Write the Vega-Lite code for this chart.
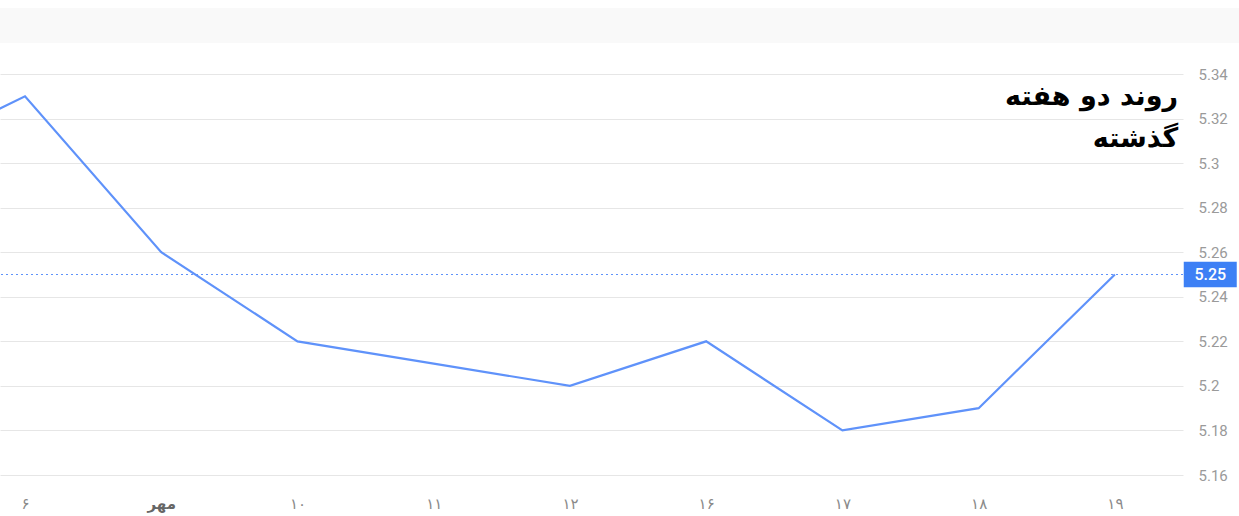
{
  "$schema": "https://vega.github.io/schema/vega-lite/v6.json",
  "autosize": {"type": "none"},
  "width": 1183,
  "height": 401,
  "padding": {"left": 0, "top": 74, "right": 56, "bottom": 41},
  "background": "white",
  "config": {"view": {"stroke": null}},
  "datasets": {
    "series": [
      {"idx": -1, "day": "", "price": 5.30},
      {"idx": 0, "day": "۶", "price": 5.33},
      {"idx": 1, "day": "مهر", "price": 5.26},
      {"idx": 2, "day": "۱۰", "price": 5.22},
      {"idx": 3, "day": "۱۱", "price": 5.21},
      {"idx": 4, "day": "۱۲", "price": 5.20},
      {"idx": 5, "day": "۱۶", "price": 5.22},
      {"idx": 6, "day": "۱۷", "price": 5.18},
      {"idx": 7, "day": "۱۸", "price": 5.19},
      {"idx": 8, "day": "۱۹", "price": 5.25}
    ],
    "current": [{"price": 5.25}],
    "heading": [{"text": ["روند دو هفته", "گذشته"]}]
  },
  "layer": [
    {
      "data": {"values": [{"x0": -0.1835, "x1": 8.912, "y0": 5.3539, "y1": 5.3696}]},
      "mark": {"type": "rect", "color": "#f9f9f9", "clip": false},
      "encoding": {
        "x": {"field": "x0", "type": "quantitative"},
        "x2": {"field": "x1"},
        "y": {"field": "y0", "type": "quantitative"},
        "y2": {"field": "y1"}
      }
    },
    {
      "data": {"name": "series"},
      "mark": {"type": "line", "color": "#5f92fa", "strokeWidth": 2.2, "clip": true},
      "encoding": {
        "x": {
          "field": "idx",
          "type": "quantitative",
          "scale": {"domain": [-0.1835, 8.5], "nice": false, "zero": false},
          "axis": {
            "title": null,
            "values": [0, 1, 2, 3, 4, 5, 6, 7, 8],
            "labelExpr": "['۶','مهر','۱۰','۱۱','۱۲','۱۶','۱۷','۱۸','۱۹'][datum.value]",
            "domain": false,
            "ticks": false,
            "grid": false,
            "labelPadding": 28,
            "labelFont": "DejaVu Sans",
            "labelFontSize": 15,
            "labelColor": {"condition": {"test": "datum.value == 1", "value": "#666666"}, "value": "#8a8a8a"},
            "labelFontWeight": {"condition": {"test": "datum.value == 1", "value": "bold"}, "value": "normal"},
            "labelBaseline": "middle"
          }
        },
        "y": {
          "field": "price",
          "type": "quantitative",
          "scale": {"domain": [5.16, 5.34], "nice": false, "zero": false},
          "axis": {
            "title": null,
            "orient": "right",
            "values": [5.16, 5.18, 5.2, 5.22, 5.24, 5.26, 5.28, 5.3, 5.32, 5.34],
            "format": ".2~f",
            "domain": false,
            "ticks": false,
            "grid": true,
            "gridColor": "#e6e6e6",
            "gridWidth": 1,
            "labelPadding": 15,
            "labelFont": "Roboto",
            "labelFontSize": 15,
            "labelColor": "#9a9a9a",
            "labelAlign": "left",
            "labelBaseline": "middle"
          }
        }
      }
    },
    {
      "data": {"name": "heading"},
      "mark": {
        "type": "text",
        "font": "DejaVu Sans",
        "fontSize": 27,
        "fontWeight": "bold",
        "color": "#000000",
        "align": "right",
        "baseline": "alphabetic",
        "lineHeight": 42,
        "clip": false
      },
      "encoding": {
        "x": {"datum": 8.464, "type": "quantitative"},
        "y": {"datum": 5.3261, "type": "quantitative"},
        "text": {"field": "text"}
      }
    },
    {
      "data": {"name": "current"},
      "mark": {"type": "rule", "color": "#5f92fa", "strokeWidth": 1.2, "strokeDash": [2, 3]},
      "encoding": {
        "y": {"field": "price", "type": "quantitative"}
      }
    },
    {
      "data": {"name": "current"},
      "mark": {
        "type": "point",
        "shape": "M-1,-0.48H1V0.48H-1Z",
        "size": 2809,
        "filled": true,
        "color": "#3d80f5",
        "opacity": 1,
        "strokeWidth": 0,
        "clip": false
      },
      "encoding": {
        "x": {"datum": 8.7, "type": "quantitative"},
        "y": {"field": "price", "type": "quantitative"}
      }
    },
    {
      "data": {"name": "current"},
      "mark": {
        "type": "text",
        "color": "#ffffff",
        "font": "Roboto",
        "fontSize": 16,
        "fontWeight": 500,
        "align": "center",
        "baseline": "middle",
        "clip": false
      },
      "encoding": {
        "x": {"datum": 8.7, "type": "quantitative"},
        "y": {"field": "price", "type": "quantitative"},
        "text": {"field": "price", "type": "quantitative", "format": ".2f"}
      }
    }
  ]
}
